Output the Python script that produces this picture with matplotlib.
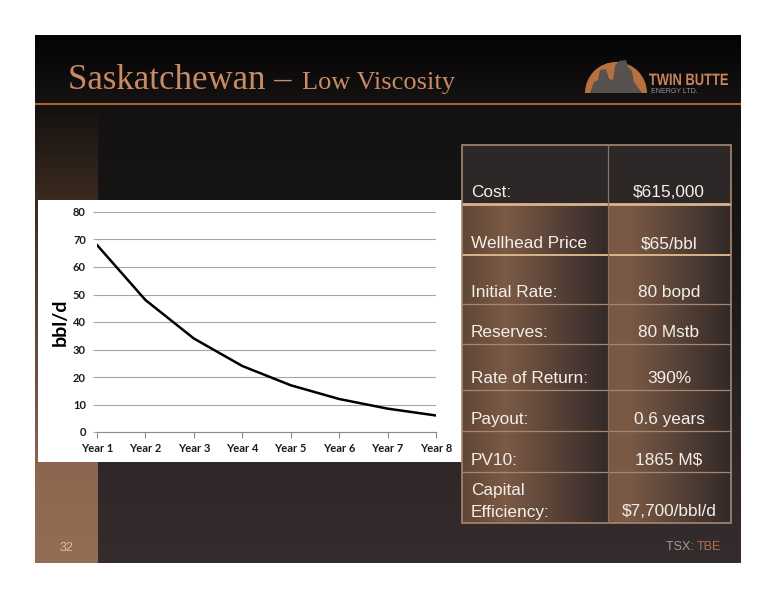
import numpy as np
import matplotlib
matplotlib.use("Agg")
import matplotlib.pyplot as plt
import matplotlib.colors as mcolors
from matplotlib.patches import Rectangle, Wedge, Polygon, PathPatch
from matplotlib.textpath import TextPath
from matplotlib.font_manager import FontProperties
from matplotlib.transforms import Affine2D

# 数据
years = ["Year 1", "Year 2", "Year 3", "Year 4", "Year 5", "Year 6", "Year 7", "Year 8"]
rate = [68, 48, 34, 24, 17, 12, 8.5, 6]
y_ticks = [0, 10, 20, 30, 40, 50, 60, 70, 80]

table_labels = ["Cost:", "Wellhead Price", "Initial Rate:", "Reserves:",
                "Rate of Return:", "Payout:", "PV10:", "Capital\nEfficiency:"]
table_values = ["$615,000", "$65/bbl", "80 bopd", "80 Mstb",
                "390%", "0.6 years", "1865 M$", "$7,700/bbl/d"]
row_edges = [145, 204, 255, 304, 344, 390, 431, 472, 523]

W, H = 776, 600


def gradient(ax, x0, x1, y0, y1, pos, cols, horizontal=True, z=1):
    t = np.linspace(0, 1, 256)
    c = np.array([mcolors.to_rgb(k) for k in cols])
    rgb = np.stack([np.interp(t, pos, c[:, i]) for i in range(3)], axis=-1)
    img = rgb[np.newaxis, :, :] if horizontal else rgb[:, np.newaxis, :]
    ax.imshow(img, extent=(x0, x1, y1, y0), origin="upper", aspect="auto",
              interpolation="bilinear", zorder=z)


fig = plt.figure(figsize=(W / 100, H / 100), dpi=100)
fig.patch.set_facecolor("white")
bg = fig.add_axes([0, 0, 1, 1])
bg.set_axis_off()

# 幻灯片背景
gradient(bg, 35, 741, 35, 104, [0, 0.5, 1], ["#050404", "#0c0a0a", "#161313"], horizontal=False)
gradient(bg, 35, 741, 104, 563, [0, 0.25, 0.8, 1], ["#131111", "#181515", "#302828", "#352d2d"],
         horizontal=False)
gradient(bg, 35, 98, 106, 563, [0, 0.2, 0.8, 1], ["#151110", "#3a2a20", "#8d664f", "#956d55"],
         horizontal=False, z=2)
bg.add_patch(Rectangle((35, 103), 706, 2.2, facecolor="#b4602e", edgecolor="none", zorder=3))

# 标题
bg.text(68, 89, "Saskatchewan \u2013", fontsize=25, family="Liberation Serif",
        color="#c98a64", va="baseline", ha="left", zorder=4)
bg.text(302, 89, "Low Viscosity", fontsize=19, family="Liberation Serif",
        color="#c98a64", va="baseline", ha="left", zorder=4)

# 标志
bg.add_patch(Wedge((616, 93), 31, 180, 360, facecolor="#b8703f", edgecolor="none", zorder=4))
bg.add_patch(Polygon([(590, 93), (594, 82), (598, 80), (600, 70), (606, 69), (609, 79),
                      (613, 80), (615, 66), (619, 61), (626, 60), (628, 67), (632, 71),
                      (634, 82), (642, 93)], closed=True, facecolor="#57524f",
                     edgecolor="none", zorder=5))
# 压缩的标志文字
tp = TextPath((0, 0), "TWIN BUTTE", size=16.5,
              prop=FontProperties(family="Liberation Sans", weight="bold"))
ext = tp.get_extents()
sx = 79 / ext.width
logo_tf = Affine2D().translate(-ext.x0, 0).scale(sx, -1).translate(649, 85)
bg.add_patch(PathPatch(logo_tf.transform_path(tp), facecolor="#c8845a",
                       edgecolor="none", zorder=4))
bg.text(651, 93, "ENERGY LTD.", fontsize=5, family="Liberation Sans",
        color="#9a9a9a", va="baseline", ha="left", zorder=4)

# 图表白色面板
bg.add_patch(Rectangle((38, 200), 424, 262, facecolor="white", edgecolor="none", zorder=3))

# 表格
for i in range(len(table_labels)):
    y0, y1 = row_edges[i], row_edges[i + 1]
    if i == 0:
        bg.add_patch(Rectangle((462, y0), 269, y1 - y0, facecolor="#2d2727",
                               edgecolor="none", zorder=3))
    else:
        gradient(bg, 462, 608, y0, y1, [0, 0.3, 1], ["#604636", "#7b5a46", "#342a29"], z=3)
        gradient(bg, 608, 731, y0, y1, [0, 0.15, 1], ["#785843", "#7c5b46", "#322928"], z=3)
    lab = table_labels[i]
    if "\n" in lab:
        a, b = lab.split("\n")
        bg.text(471, y1 - 28, a, fontsize=12.4, family="Liberation Sans",
                color="#f4efe8", va="baseline", ha="left", zorder=6)
        bg.text(471, y1 - 6, b, fontsize=12.4, family="Liberation Sans",
                color="#f4efe8", va="baseline", ha="left", zorder=6)
    else:
        bg.text(471, y1 - 7, lab, fontsize=12.4, family="Liberation Sans",
                color="#f4efe8", va="baseline", ha="left", zorder=6)
    bg.text(669, y1 - 7, table_values[i], fontsize=12.4, family="Liberation Sans",
            color="#f4efe8", va="baseline", ha="center", zorder=6)

for k, y in enumerate(row_edges[1:-1]):
    lw = 2.0 if k == 0 else (1.4 if k == 1 else 0.9)
    col = "#d9b48c" if k < 2 else "#a88670"
    bg.plot([462, 731], [y, y], color=col, lw=lw, solid_capstyle="butt", zorder=5)
bg.add_patch(Rectangle((462, 145), 269, 378, facecolor="none", edgecolor="#a88670",
                       lw=1.2, zorder=5))
bg.plot([608, 608], [145, 523], color="#8a7060", lw=0.9, zorder=5)

# 页脚
bg.text(67, 551, "32", fontsize=9, family="Liberation Sans", color="#e3bb9c",
        va="baseline", ha="center", zorder=4)
bg.text(697, 550, "TBE", fontsize=9, family="Liberation Sans", color="#b5704a",
        va="baseline", ha="left", zorder=4)
bg.text(697, 550, "TSX: ", fontsize=9, family="Liberation Sans", color="#a09696",
        va="baseline", ha="right", zorder=4)

bg.set_xlim(0, W)
bg.set_ylim(H, 0)

# 折线图
ax = fig.add_axes([97 / W, (H - 432) / H, 339 / W, 220 / H])
ax.set_facecolor("none")
x = np.arange(len(years))
ax.plot(x, rate, color="black", lw=1.8, zorder=3)
ax.set_xlim(0, len(years) - 1)
ax.set_ylim(0, 80)
ax.set_yticks(y_ticks)
ax.set_xticks(x)
ax.set_xticklabels(years)
ax.yaxis.grid(True, color="#a6a6a6", lw=0.8)
ax.set_axisbelow(True)
for s in ["top", "right", "left"]:
    ax.spines[s].set_visible(False)
ax.spines["bottom"].set_color("#8c8c8c")
ax.tick_params(axis="x", length=4, color="#8c8c8c", pad=4)
ax.tick_params(axis="y", length=3, color="#a6a6a6", pad=5)
for lab in ax.get_xticklabels() + ax.get_yticklabels():
    lab.set_fontfamily("Lato")
    lab.set_fontweight("bold")
    lab.set_fontsize(8)
    lab.set_color("#1a1a1a")
ax.set_ylabel("bbl/d", fontsize=14, family="Lato", weight="bold", labelpad=3)

fig.savefig("out.png", dpi=100, facecolor="white")
